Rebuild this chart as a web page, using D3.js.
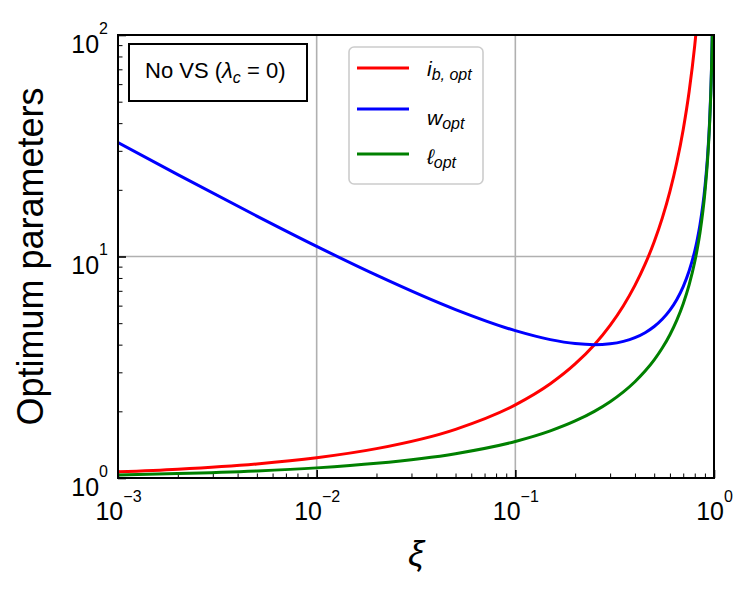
<!DOCTYPE html>
<html>
<head>
<meta charset="utf-8">
<script src="https://cdn.jsdelivr.net/npm/d3@7"></script>
<style>
  body { margin: 0; background: #fff; }
  text { font-family: "Liberation Sans", Arial, sans-serif; }
</style>
</head>
<body>
<div id="chart"></div>
<script>
// optimum parameters vs xi, log-log, no VS case

// xi samples and the three curves
const xiValues = [0.001, 0.002, 0.005, 0.01, 0.02, 0.05, 0.1, 0.15, 0.2, 0.25, 0.3, 0.35, 0.4, 0.45, 0.5,
    0.55, 0.6, 0.65, 0.7, 0.75, 0.8, 0.82, 0.85, 0.9, 0.93, 0.95, 0.97, 0.98, 0.99];
const ibOpt = [1.066, 1.096, 1.158, 1.235, 1.357, 1.659, 2.139, 2.664, 3.273, 4.0, 4.889, 5.996, 7.403, 9.229, 11.66,
    14.98, 19.68, 26.63, 37.48, 55.71, 89.72, 112.1, 164.2, 379.7, 787.5, 1560, 4378, 9898, 39800];
const wOpt = [32.66, 23.41, 15.22, 11.11, 8.236, 5.760, 4.625, 4.214, 4.045, 4.0, 4.037, 4.139, 4.302, 4.529, 4.828,
    5.219, 5.727, 6.401, 7.318, 8.619, 10.59, 11.69, 13.90, 20.54, 29.10, 40.52, 67.18, 100.5, 200.5];
const lOpt = [1.033, 1.047, 1.076, 1.111, 1.165, 1.288, 1.462, 1.632, 1.809, 2.0, 2.211, 2.449, 2.721, 3.038, 3.414,
    3.870, 4.436, 5.161, 6.122, 7.464, 9.472, 10.59, 12.81, 19.49, 28.06, 39.49, 66.16, 99.49, 199.5];

const xTicks = [1e-3, 1e-2, 1e-1, 1];
const xTickExp = ["\u22123", "\u22122", "\u22121", "0"];
const yTicks = [1, 10, 100];
const yTickExp = ["0", "1", "2"];

const seriesNames = ["ib", "w", "l"];
const seriesColors = ["#ff0000", "#0000ff", "#008000"];

// margins for the plot
var margin = { top: 35, right: 42, bottom: 118, left: 118 }
var width = 756 - margin.left - margin.right
var height = 596 - margin.top - margin.bottom

const xScale = d3.scaleLog().domain([1e-3, 1]).range([0, width])
const yScale = d3.scaleLog().domain([1, 100]).range([height, 0])

const svg = d3.select("#chart")
    .append("svg")
    .attr("width", 756)
    .attr("height", 596)

const g = svg.append("g")
    .attr("transform", "translate(" + margin.left + "," + margin.top + ")")

g.append("clipPath").attr("id", "clip")
    .append("rect").attr("width", width).attr("height", height)

// grid lines (major only)
g.append("g").selectAll("line.gx")
    .data(xTicks).enter().append("line")
    .attr("x1", d => xScale(d)).attr("x2", d => xScale(d))
    .attr("y1", 0).attr("y2", height)
    .attr("stroke", "#b0b0b0").attr("stroke-width", 1.6)
g.append("g").selectAll("line.gy")
    .data(yTicks).enter().append("line")
    .attr("x1", 0).attr("x2", width)
    .attr("y1", d => yScale(d)).attr("y2", d => yScale(d))
    .attr("stroke", "#b0b0b0").attr("stroke-width", 1.6)

// minor ticks
function minors(lo, hi) {
    var out = []
    for (var e = lo; e < hi; e++)
        for (var k = 2; k <= 9; k++) out.push(k * Math.pow(10, e))
    return out
}
g.append("g")
    .attr("transform", "translate(0," + height + ")")
    .call(d3.axisBottom(xScale).tickValues(minors(-3, 0)).tickSize(-4.5).tickFormat(""))
    .call(a => a.select(".domain").remove())
g.append("g")
    .call(d3.axisLeft(yScale).tickValues(minors(0, 2)).tickSize(-4.5).tickFormat(""))
    .call(a => a.select(".domain").remove())

// major ticks + labels
const gx = g.append("g")
    .attr("transform", "translate(0," + height + ")")
    .call(d3.axisBottom(xScale).tickValues(xTicks).tickSize(-8))
gx.select(".domain").remove()
gx.selectAll(".tick line").attr("stroke-width", 1.6)
gx.selectAll(".tick text").text(null)
    .attr("y", 42).attr("dy", null)
    .attr("font-size", 25).attr("fill", "#000")
    .each(function (d, i) {
        var t = d3.select(this)
        t.append("tspan").text("10")
        t.append("tspan").attr("dy", -18).attr("font-size", 16).text(xTickExp[i])
    })

const gy = g.append("g")
    .call(d3.axisLeft(yScale).tickValues(yTicks).tickSize(-8))
gy.select(".domain").remove()
gy.selectAll(".tick line").attr("stroke-width", 1.6)
gy.selectAll(".tick text").text(null)
    .attr("x", -10).attr("dy", 17)
    .attr("font-size", 25).attr("fill", "#000")
    .each(function (d, i) {
        var t = d3.select(this)
        t.append("tspan").text("10")
        t.append("tspan").attr("dy", -19).attr("font-size", 16).text(yTickExp[i])
    })

// curves
const allSeries = [ibOpt, wOpt, lOpt]
const line = d3.line()
    .x((d, i) => xScale(xiValues[i]))
    .y(d => yScale(d))
    .curve(d3.curveMonotoneX)

g.append("g").attr("clip-path", "url(#clip)")
    .selectAll("path")
    .data(allSeries).enter().append("path")
    .attr("d", line)
    .attr("fill", "none")
    .attr("stroke", (d, i) => seriesColors[i])
    .attr("stroke-width", 3)

// frame
g.append("rect")
    .attr("width", width).attr("height", height)
    .attr("fill", "none").attr("stroke", "#000").attr("stroke-width", 2)

// annotation box
const ann = svg.append("g")
ann.append("rect")
    .attr("x", 129).attr("y", 44).attr("width", 178).attr("height", 57)
    .attr("fill", "#fff").attr("stroke", "#000").attr("stroke-width", 2)
const annText = ann.append("text").attr("x", 145).attr("y", 78).attr("font-size", 22)
annText.append("tspan").text("No VS (")
annText.append("tspan").attr("font-style", "italic").text("\u03bb")
annText.append("tspan").attr("font-style", "italic").attr("font-size", 16).attr("dy", 5).text("c")
annText.append("tspan").attr("dy", -5).text(" = 0)")

// legend
const leg = svg.append("g")
leg.append("rect")
    .attr("x", 349).attr("y", 47).attr("width", 134).attr("height", 137)
    .attr("rx", 5)
    .attr("fill", "#fff").attr("fill-opacity", 0.8)
    .attr("stroke", "#cccccc").attr("stroke-width", 1.6)

const legLineY = [68, 109, 154]
const legTextY = [76, 125, 164]
const legMain = ["i", "w", "\u2113"]
const legSub = ["b, opt", "opt", "opt"]
seriesNames.forEach(function (name, i) {
    leg.append("line")
        .attr("x1", 357).attr("x2", 409)
        .attr("y1", legLineY[i]).attr("y2", legLineY[i])
        .attr("stroke", seriesColors[i]).attr("stroke-width", 3)
    var t = leg.append("text")
        .attr("x", 427).attr("y", legTextY[i])
        .attr("font-size", 21).attr("font-style", "italic")
    t.append("tspan").text(legMain[i])
    t.append("tspan").attr("font-size", 16).attr("dy", 4).text(legSub[i])
})

// axis labels
svg.append("text")
    .attr("x", margin.left + width / 2).attr("y", 566)
    .attr("text-anchor", "middle")
    .attr("font-size", 36).attr("font-style", "italic")
    .text("\u03be")

svg.append("text")
    .attr("transform", "translate(43," + (margin.top + height / 2) + ") rotate(-90)")
    .attr("text-anchor", "middle")
    .attr("font-size", 36)
    .text("Optimum parameters")
</script>
</body>
</html>
